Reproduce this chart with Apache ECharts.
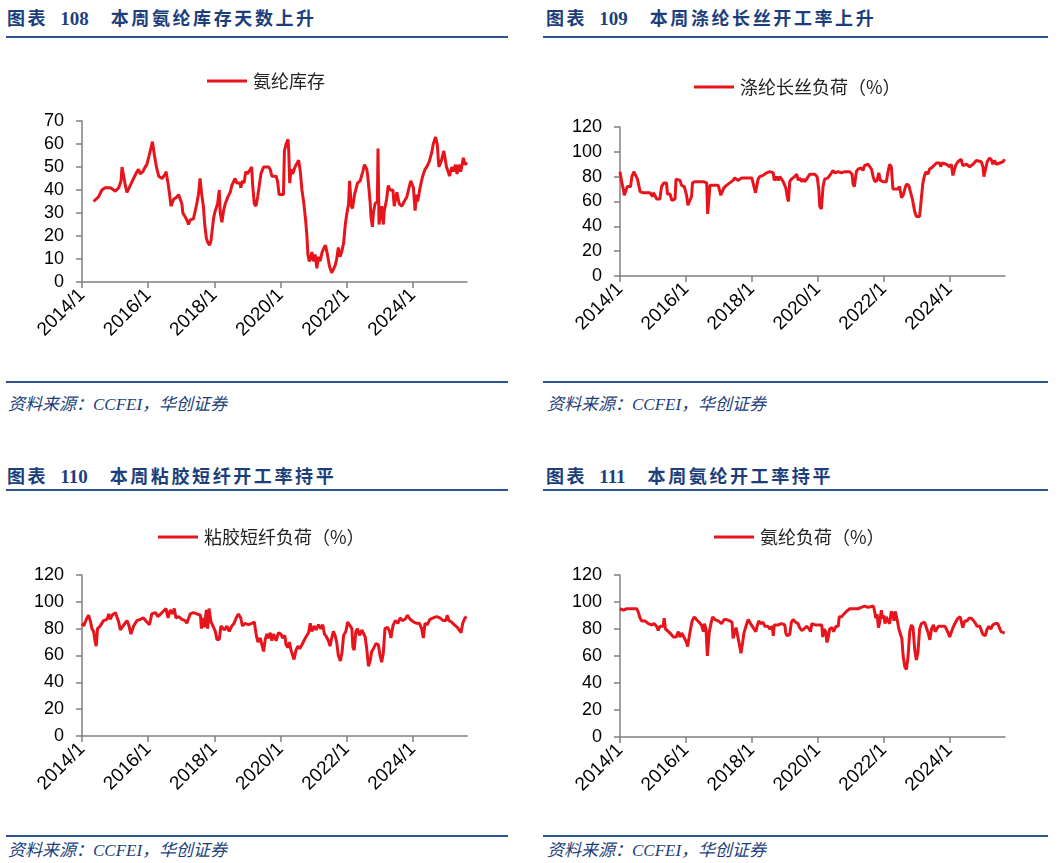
<!DOCTYPE html>
<html>
<head>
<meta charset="utf-8">
<script src="https://cdn.jsdelivr.net/npm/echarts@6/dist/echarts.min.js"></script>
<style>
  html, body { margin: 0; padding: 0; background: #fff; }
  body { width: 1059px; height: 863px; position: relative; overflow: hidden; }
  .title { position: absolute; font-family: "Noto Sans CJK SC", sans-serif; font-weight: bold; font-size: 18px; color: #1C3F7C; letter-spacing: 2.6px; white-space: nowrap; line-height: 20px; }
  .title .num { font-family: "Liberation Serif", serif; font-weight: bold; font-size: 19px; letter-spacing: 0; margin: 0 22px 0 12px; }
  .rule { position: absolute; height: 2px; background: #2B5592; }
  .src { position: absolute; font-family: "Liberation Serif", "Noto Sans CJK SC", serif; font-style: italic; font-size: 17px; color: #1C3F7C; white-space: nowrap; line-height: 20px; }
  .chart { position: absolute; }
</style>
</head>
<body>
<div class="title" style="left:7px; top:7px;">图表<span class="num">108</span>本周氨纶库存天数上升</div>
<div class="rule" style="left:6px; top:36px; width:502px;"></div>
<div class="chart" id="c1" style="left:0; top:45px; width:530px; height:330px;"></div>
<div class="rule" style="left:6px; top:381px; width:502px;"></div>
<div class="src" style="left:8px; top:395px;">资料来源：CCFEI，华创证券</div>

<div class="title" style="left:546px; top:7px;">图表<span class="num">109</span>本周涤纶长丝开工率上升</div>
<div class="rule" style="left:543px; top:36px; width:505px;"></div>
<div class="chart" id="c2" style="left:530px; top:45px; width:529px; height:330px;"></div>
<div class="rule" style="left:543px; top:381px; width:505px;"></div>
<div class="src" style="left:547px; top:395px;">资料来源：CCFEI，华创证券</div>

<div class="title" style="left:7px; top:465px;">图表<span class="num">110</span>本周粘胶短纤开工率持平</div>
<div class="rule" style="left:6px; top:489px; width:502px;"></div>
<div class="chart" id="c3" style="left:0; top:500px; width:530px; height:330px;"></div>
<div class="rule" style="left:6px; top:835px; width:502px;"></div>
<div class="src" style="left:8px; top:841px;">资料来源：CCFEI，华创证券</div>

<div class="title" style="left:546px; top:465px;">图表<span class="num">111</span>本周氨纶开工率持平</div>
<div class="rule" style="left:543px; top:489px; width:505px;"></div>
<div class="chart" id="c4" style="left:530px; top:500px; width:529px; height:330px;"></div>
<div class="rule" style="left:543px; top:835px; width:505px;"></div>
<div class="src" style="left:547px; top:841px;">资料来源：CCFEI，华创证券</div>

<script>
// ---- data (time in decimal years) ----
var xTicks = [2014, 2016, 2018, 2020, 2022, 2024];

var name1 = '氨纶库存';
var t1 = [2014.35,2014.50,2014.60,2014.70,2014.86,2015.01,2015.11,2015.18,2015.21,2015.26,2015.31,2015.36,2015.46,2015.56,2015.66,2015.71,2015.76,2015.84,2015.91,2015.96,2016.03,2016.08,2016.13,2016.19,2016.25,2016.32,2016.42,2016.52,2016.54,2016.60,2016.64,2016.69,2016.77,2016.87,2016.92,2016.97,2017.02,2017.05,2017.09,2017.13,2017.17,2017.22,2017.27,2017.37,2017.42,2017.47,2017.52,2017.57,2017.62,2017.67,2017.71,2017.76,2017.81,2017.86,2017.90,2017.98,2018.03,2018.10,2018.15,2018.18,2018.23,2018.28,2018.33,2018.41,2018.48,2018.53,2018.63,2018.68,2018.78,2018.80,2018.85,2018.90,2018.95,2019.00,2019.09,2019.13,2019.16,2019.21,2019.26,2019.31,2019.36,2019.41,2019.49,2019.64,2019.69,2019.74,2019.87,2019.91,2019.96,2020.09,2020.12,2020.17,2020.23,2020.25,2020.28,2020.32,2020.37,2020.44,2020.55,2020.60,2020.65,2020.70,2020.76,2020.80,2020.83,2020.87,2020.91,2020.95,2021.00,2021.05,2021.10,2021.15,2021.20,2021.26,2021.32,2021.36,2021.42,2021.48,2021.55,2021.60,2021.65,2021.70,2021.75,2021.80,2021.85,2021.91,2021.96,2022.01,2022.06,2022.09,2022.14,2022.18,2022.24,2022.33,2022.41,2022.49,2022.54,2022.61,2022.64,2022.71,2022.74,2022.78,2022.81,2022.86,2022.93,2022.95,2022.98,2023.06,2023.11,2023.14,2023.21,2023.26,2023.31,2023.40,2023.44,2023.52,2023.59,2023.67,2023.74,2023.82,2023.87,2023.94,2024.02,2024.07,2024.12,2024.15,2024.22,2024.30,2024.37,2024.42,2024.49,2024.57,2024.62,2024.69,2024.74,2024.79,2024.87,2024.94,2025.02,2025.07,2025.11,2025.18,2025.23,2025.29,2025.34,2025.39,2025.45,2025.49,2025.53,2025.58,2025.64];
var v1 = [35,37,40,41,41,39.5,41,44,50,50,42,39,42,45,48,49,47,48,50,51,55,58,61,55,50,46,45,47,48,43,39,33,36,37,38,36,34,30,30,28,27,25,27,27.5,28,34,38,45,38,33,25,19,17,16,18,28,31,34,40,30,26,31,34,37,39,42,45,43,43,41,44,43,48,47,49,50,42,34,33,37,42,47,50,50,49,46,46,44,38,38,57,60,62,57,43,49,47,50,53,48,40,35,27,20,12,9,10,13,9,12,6,11,9,13,15,16,12,7,4,4,7,10,15,11,13,17,25,30,34,44,33,32,38,43,44,48,51,49,46,35,28,24,30,34,35,58,25,33,25,31,36,42,40,40,33,39,34,33,35,37,40,44,41,31,38,35,41,46,49,50,52,56,60,63,60,50,53,57,50,48,46,50,48,51,47,51,48,51,54,51,52];

var name2 = '涤纶长丝负荷（%）';
var t2 = [2014.00,2014.05,2014.10,2014.13,2014.17,2014.22,2014.28,2014.32,2014.36,2014.42,2014.47,2014.53,2014.57,2014.61,2014.71,2014.91,2014.96,2014.99,2015.01,2015.06,2015.11,2015.21,2015.26,2015.33,2015.41,2015.44,2015.52,2015.57,2015.62,2015.67,2015.70,2015.75,2015.82,2015.87,2015.95,2016.02,2016.06,2016.12,2016.17,2016.20,2016.27,2016.37,2016.42,2016.53,2016.63,2016.66,2016.69,2016.73,2016.83,2016.98,2017.06,2017.10,2017.15,2017.23,2017.33,2017.43,2017.48,2017.59,2017.69,2017.84,2018.00,2018.06,2018.11,2018.16,2018.19,2018.24,2018.34,2018.44,2018.55,2018.65,2018.68,2018.75,2018.80,2018.85,2018.90,2018.95,2019.03,2019.08,2019.11,2019.15,2019.20,2019.30,2019.36,2019.41,2019.45,2019.51,2019.56,2019.61,2019.66,2019.76,2019.91,2019.98,2020.03,2020.06,2020.11,2020.16,2020.21,2020.31,2020.39,2020.46,2020.52,2020.62,2020.72,2020.82,2020.97,2021.04,2021.07,2021.11,2021.17,2021.22,2021.32,2021.37,2021.42,2021.53,2021.58,2021.63,2021.68,2021.73,2021.80,2021.85,2021.90,2021.98,2022.08,2022.13,2022.18,2022.23,2022.28,2022.34,2022.43,2022.48,2022.54,2022.59,2022.64,2022.69,2022.76,2022.81,2022.87,2022.94,2022.99,2023.09,2023.14,2023.19,2023.24,2023.29,2023.34,2023.39,2023.49,2023.60,2023.70,2023.73,2023.77,2023.90,2024.00,2024.05,2024.10,2024.13,2024.18,2024.25,2024.35,2024.40,2024.51,2024.61,2024.71,2024.81,2024.96,2025.01,2025.04,2025.09,2025.14,2025.21,2025.28,2025.31,2025.36,2025.42,2025.52,2025.62,2025.67];
var v2 = [84,76,70,65,68,72,73,72,80,84,83,78,77,68,67,67,67,64,67,65,62,62,72,75,75,66,66,61,60,62,78,77,77,73,72,65,57,56,64,75,76,76,75,76,75,50,50,73,73,73,65,64,71,73,75,77,79,77,79,79,79,78,67,66,78,80,81,83,84,83,77,80,77,80,78,76,71,63,60,76,78,80,82,77,79,76,78,76,78,82,82,80,70,56,54,72,78,79,82,85,83,84,83,84,84,82,74,72,84,86,87,85,89,90,91,86,80,76,77,83,77,76,76,84,90,88,70,71,70,72,63,65,70,74,73,68,62,52,48,48,62,75,81,84,82,86,88,91,91,88,91,90,88,90,81,80,89,92,94,89,90,88,90,93,92,88,80,80,92,95,93,90,93,90,91,92,94];

var name3 = '粘胶短纤负荷（%）';
var t3 = [2014.00,2014.05,2014.10,2014.15,2014.20,2014.25,2014.30,2014.35,2014.40,2014.43,2014.47,2014.55,2014.65,2014.76,2014.81,2014.86,2014.91,2015.01,2015.11,2015.16,2015.24,2015.36,2015.41,2015.48,2015.56,2015.66,2015.76,2015.86,2015.96,2016.04,2016.11,2016.22,2016.29,2016.35,2016.42,2016.47,2016.54,2016.60,2016.67,2016.74,2016.79,2016.84,2016.92,2017.02,2017.12,2017.17,2017.27,2017.37,2017.47,2017.58,2017.61,2017.65,2017.70,2017.76,2017.80,2017.84,2017.90,2017.96,2018.03,2018.08,2018.15,2018.20,2018.26,2018.31,2018.38,2018.45,2018.53,2018.60,2018.66,2018.73,2018.80,2018.85,2018.93,2019.03,2019.14,2019.21,2019.27,2019.32,2019.39,2019.44,2019.49,2019.54,2019.59,2019.64,2019.69,2019.74,2019.79,2019.87,2019.94,2020.01,2020.07,2020.13,2020.17,2020.22,2020.27,2020.32,2020.37,2020.41,2020.47,2020.53,2020.58,2020.65,2020.75,2020.85,2020.90,2020.95,2021.02,2021.08,2021.15,2021.22,2021.28,2021.33,2021.39,2021.45,2021.50,2021.55,2021.60,2021.65,2021.70,2021.75,2021.81,2021.86,2021.91,2021.98,2022.03,2022.09,2022.16,2022.19,2022.23,2022.28,2022.33,2022.39,2022.46,2022.51,2022.56,2022.61,2022.66,2022.71,2022.76,2022.83,2022.89,2022.96,2023.01,2023.06,2023.11,2023.16,2023.24,2023.30,2023.34,2023.40,2023.47,2023.55,2023.62,2023.69,2023.77,2023.84,2023.92,2024.02,2024.12,2024.20,2024.27,2024.32,2024.37,2024.44,2024.52,2024.62,2024.72,2024.82,2024.87,2024.92,2025.00,2025.04,2025.10,2025.17,2025.25,2025.30,2025.35,2025.41,2025.46,2025.51,2025.58,2025.63];
var v3 = [84,82,83,88,90,86,80,78,70,67,80,82,86,87,91,87,90,92,85,79,82,86,83,76,82,86,87,88,85,83,91,92,89,90,92,93,95,88,94,91,95,88,89,87,86,84,91,92,91,90,80,88,81,94,80,95,85,82,78,72,72,82,83,79,82,78,82,84,88,91,88,82,84,83,84,85,75,70,73,68,63,72,76,73,77,71,76,71,77,76,73,75,68,66,70,64,60,57,64,67,65,68,73,77,84,78,82,79,83,80,83,76,74,71,67,73,78,75,70,60,56,62,75,78,85,84,80,66,64,78,80,75,79,80,74,65,52,56,63,66,69,68,60,55,62,80,81,78,73,82,86,84,88,86,87,90,87,85,84,84,80,73,84,83,87,88,89,88,89,86,86,90,86,85,83,84,81,81,77,84,88,89];

var name4 = '氨纶负荷（%）';
var t4 = [2014.00,2014.10,2014.20,2014.40,2014.51,2014.56,2014.61,2014.66,2014.76,2014.81,2014.86,2014.91,2014.96,2015.03,2015.11,2015.16,2015.21,2015.26,2015.31,2015.34,2015.38,2015.44,2015.52,2015.57,2015.62,2015.70,2015.77,2015.82,2015.87,2015.92,2015.97,2016.02,2016.05,2016.09,2016.14,2016.19,2016.25,2016.32,2016.40,2016.47,2016.53,2016.56,2016.61,2016.65,2016.68,2016.71,2016.76,2016.81,2016.88,2016.98,2017.08,2017.16,2017.23,2017.33,2017.40,2017.43,2017.48,2017.52,2017.56,2017.61,2017.67,2017.72,2017.76,2017.82,2017.89,2017.96,2018.04,2018.12,2018.17,2018.21,2018.27,2018.34,2018.39,2018.49,2018.55,2018.62,2018.65,2018.68,2018.80,2018.90,2019.00,2019.03,2019.07,2019.15,2019.20,2019.25,2019.33,2019.40,2019.45,2019.51,2019.58,2019.66,2019.74,2019.78,2019.82,2019.92,2020.02,2020.12,2020.15,2020.19,2020.24,2020.28,2020.32,2020.36,2020.43,2020.48,2020.55,2020.62,2020.65,2020.72,2020.79,2020.87,2020.97,2021.07,2021.22,2021.32,2021.37,2021.42,2021.53,2021.58,2021.68,2021.71,2021.76,2021.80,2021.84,2021.88,2021.93,2021.96,2022.00,2022.04,2022.08,2022.13,2022.18,2022.23,2022.28,2022.31,2022.35,2022.40,2022.46,2022.51,2022.55,2022.59,2022.64,2022.69,2022.74,2022.79,2022.84,2022.89,2022.94,2022.99,2023.04,2023.09,2023.14,2023.24,2023.29,2023.35,2023.40,2023.45,2023.51,2023.56,2023.61,2023.66,2023.76,2023.86,2023.96,2024.00,2024.05,2024.10,2024.18,2024.25,2024.32,2024.37,2024.40,2024.46,2024.53,2024.59,2024.66,2024.73,2024.79,2024.83,2024.92,2024.96,2025.01,2025.08,2025.14,2025.19,2025.25,2025.31,2025.39,2025.46,2025.52,2025.56,2025.61,2025.67];
var v4 = [95,94,95,95,95,92,88,86,86,85,84,85,83,84,82,79,82,81,82,88,80,81,77,76,74,74,78,74,77,75,76,70,67,67,80,86,89,87,85,83,78,84,80,60,60,78,84,89,87,86,84,87,87,86,85,73,74,81,80,70,62,70,77,82,87,84,81,78,83,86,84,85,82,82,80,82,75,83,83,84,83,77,75,76,85,87,85,84,81,79,80,82,80,78,84,83,83,83,74,80,78,70,74,80,81,78,82,82,89,89,91,93,95,95,95,96,95,97,96,97,97,95,88,91,81,85,94,88,90,84,89,86,84,93,91,86,93,88,80,79,73,60,52,50,60,78,83,81,65,57,63,80,84,85,84,77,72,80,83,78,77,82,82,82,77,74,75,81,85,88,89,88,81,86,86,88,88,86,84,82,82,79,76,75,80,82,80,83,84,84,83,78,77,77];

function zip(t, v) { var out = []; for (var i = 0; i < t.length; i++) out.push([t[i], v[i]]); return out; }

function makeOption(cfg) {
  return {
    animation: false,
    legend: {
      show: true,
      left: cfg.legendLeft, top: cfg.legendTop,
      icon: 'rect', itemWidth: 40, itemHeight: 3, itemGap: 10,
      textStyle: { fontFamily: 'Noto Sans CJK SC', fontSize: 18, color: '#222', padding: [0, 0, 0, 1] },
      data: [cfg.name]
    },
    grid: { left: cfg.left, right: cfg.right, top: cfg.top, bottom: cfg.bottom, containLabel: false },
    xAxis: {
      type: 'value', min: 2014, max: cfg.xmax, interval: 2,
      splitLine: { show: false },
      axisLine: { show: true, lineStyle: { color: '#808080', width: 1.5 } },
      axisTick: { show: true, length: 6, lineStyle: { color: '#808080', width: 1.5 }, customValues: xTicks },
      axisLabel: { rotate: 45, margin: 10, fontFamily: 'Liberation Sans, Arial', fontSize: 19, color: '#000',
                   customValues: xTicks, formatter: function (v) { return v + '/1'; } }
    },
    yAxis: {
      type: 'value', min: 0, max: cfg.ymax, interval: cfg.yint,
      splitLine: { show: false },
      axisLine: { show: true, lineStyle: { color: '#808080', width: 1.5 } },
      axisTick: { show: true, length: 6, lineStyle: { color: '#808080', width: 1.5 } },
      axisLabel: { margin: 18, fontFamily: 'Liberation Sans, Arial', fontSize: 18, color: '#000' }
    },
    series: [{
      name: cfg.name, type: 'line', data: zip(cfg.t, cfg.v),
      showSymbol: false, symbol: 'none',
      lineStyle: { color: '#E8141C', width: 3 }, itemStyle: { color: '#E8141C' }
    }]
  };
}

var cfgs = [
  { id: 'c1', name: name1, t: t1, v: v1, ymax: 70, yint: 10, xmax: 2025.64, left: 82, right: 63, top: 76, bottom: 93, legendLeft: 202, legendTop: 22 },
  { id: 'c2', name: name2, t: t2, v: v2, ymax: 120, yint: 20, xmax: 2025.68, left: 90, right: 54, top: 82, bottom: 99, legendLeft: 159, legendTop: 28 },
  { id: 'c3', name: name3, t: t3, v: v3, ymax: 120, yint: 20, xmax: 2025.64, left: 82, right: 63, top: 75, bottom: 94, legendLeft: 153, legendTop: 23 },
  { id: 'c4', name: name4, t: t4, v: v4, ymax: 120, yint: 20, xmax: 2025.68, left: 90, right: 54, top: 75, bottom: 93, legendLeft: 179, legendTop: 23 }
];
cfgs.forEach(function (c) {
  var ch = echarts.init(document.getElementById(c.id), null, { renderer: 'canvas' });
  ch.setOption(makeOption(c));
});
</script>
</body>
</html>
